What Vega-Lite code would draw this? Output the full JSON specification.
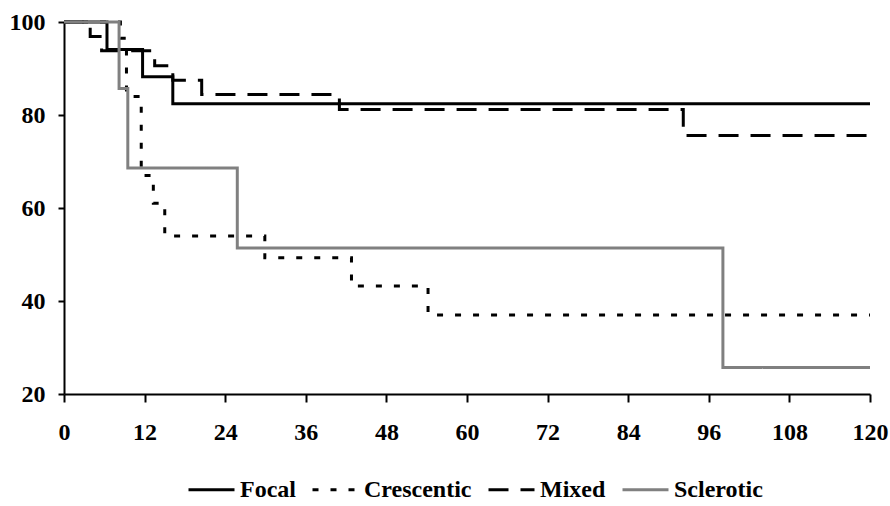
{
  "$schema": "https://vega.github.io/schema/vega-lite/v6.json",
  "width": 806,
  "height": 372,
  "autosize": {"type": "none"},
  "padding": {"left": 64, "top": 22, "right": 20, "bottom": 112},
  "background": "white",
  "config": {
    "view": {"stroke": null},
    "axis": {
      "grid": false,
      "domainColor": "black",
      "domainWidth": 2,
      "tickColor": "black",
      "tickWidth": 2,
      "labelFont": "Liberation Serif",
      "labelFontWeight": "bold",
      "labelFontSize": 24,
      "labelColor": "black"
    },
    "legend": {
      "labelFont": "Liberation Serif",
      "labelFontWeight": "bold",
      "labelFontSize": 24,
      "labelColor": "black"
    }
  },
  "data": {
    "values": [
      {"series": "Focal", "t": 0, "s": 100},
      {"series": "Focal", "t": 6.4, "s": 94.1},
      {"series": "Focal", "t": 11.7, "s": 88.2},
      {"series": "Focal", "t": 16.2, "s": 82.4},
      {"series": "Focal", "t": 120, "s": 82.4},
      {"series": "Crescentic", "t": 0, "s": 100},
      {"series": "Crescentic", "t": 8.4, "s": 96.5},
      {"series": "Crescentic", "t": 9.3, "s": 84},
      {"series": "Crescentic", "t": 11.5, "s": 67},
      {"series": "Crescentic", "t": 13.3, "s": 61},
      {"series": "Crescentic", "t": 15, "s": 54},
      {"series": "Crescentic", "t": 29.9, "s": 49.3},
      {"series": "Crescentic", "t": 42.8, "s": 43.2},
      {"series": "Crescentic", "t": 54.2, "s": 37},
      {"series": "Crescentic", "t": 120, "s": 37},
      {"series": "Mixed", "t": 0, "s": 100},
      {"series": "Mixed", "t": 3.9, "s": 96.9},
      {"series": "Mixed", "t": 5.6, "s": 93.8},
      {"series": "Mixed", "t": 13.5, "s": 90.6},
      {"series": "Mixed", "t": 16.2, "s": 87.5},
      {"series": "Mixed", "t": 20.5, "s": 84.4},
      {"series": "Mixed", "t": 41, "s": 81.2},
      {"series": "Mixed", "t": 92.2, "s": 75.6},
      {"series": "Mixed", "t": 120, "s": 75.6},
      {"series": "Sclerotic", "t": 0, "s": 100},
      {"series": "Sclerotic", "t": 8.2, "s": 85.7},
      {"series": "Sclerotic", "t": 9.5, "s": 68.6},
      {"series": "Sclerotic", "t": 25.8, "s": 51.4},
      {"series": "Sclerotic", "t": 98.1, "s": 25.7},
      {"series": "Sclerotic", "t": 120, "s": 25.7}
    ]
  },
  "mark": {"type": "line", "interpolate": "step-after", "strokeWidth": 3, "strokeCap": "butt"},
  "encoding": {
    "x": {
      "field": "t", "type": "quantitative",
      "scale": {"domain": [0, 120], "nice": false, "zero": false},
      "axis": {"title": null, "values": [0, 12, 24, 36, 48, 60, 72, 84, 96, 108, 120], "tickSize": 8, "labelPadding": 18, "labelFlush": false}
    },
    "y": {
      "field": "s", "type": "quantitative",
      "scale": {"domain": [20, 100], "nice": false, "zero": false},
      "axis": {"title": null, "values": [20, 40, 60, 80, 100], "tickSize": 6, "labelPadding": 13, "labelFlush": false}
    },
    "color": {
      "field": "series", "type": "nominal",
      "scale": {"domain": ["Focal", "Crescentic", "Mixed", "Sclerotic"], "range": ["#000000", "#000000", "#000000", "#808080"]},
      "legend": {
        "title": null, "orient": "none", "direction": "horizontal",
        "legendX": 123, "legendY": 443,
        "symbolType": "stroke", "symbolSize": 2116, "symbolStrokeWidth": 3,
        "labelOffset": 4, "columnPadding": 10
      }
    },
    "strokeDash": {
      "field": "series", "type": "nominal",
      "scale": {"domain": ["Focal", "Crescentic", "Mixed", "Sclerotic"], "range": [[1, 0], [6, 12], [20, 12], [1, 0]]},
      "legend": {
        "title": null, "orient": "none", "direction": "horizontal",
        "legendX": 123, "legendY": 443,
        "symbolType": "stroke", "symbolSize": 2116, "symbolStrokeWidth": 3,
        "labelOffset": 4, "columnPadding": 10
      }
    }
  }
}
